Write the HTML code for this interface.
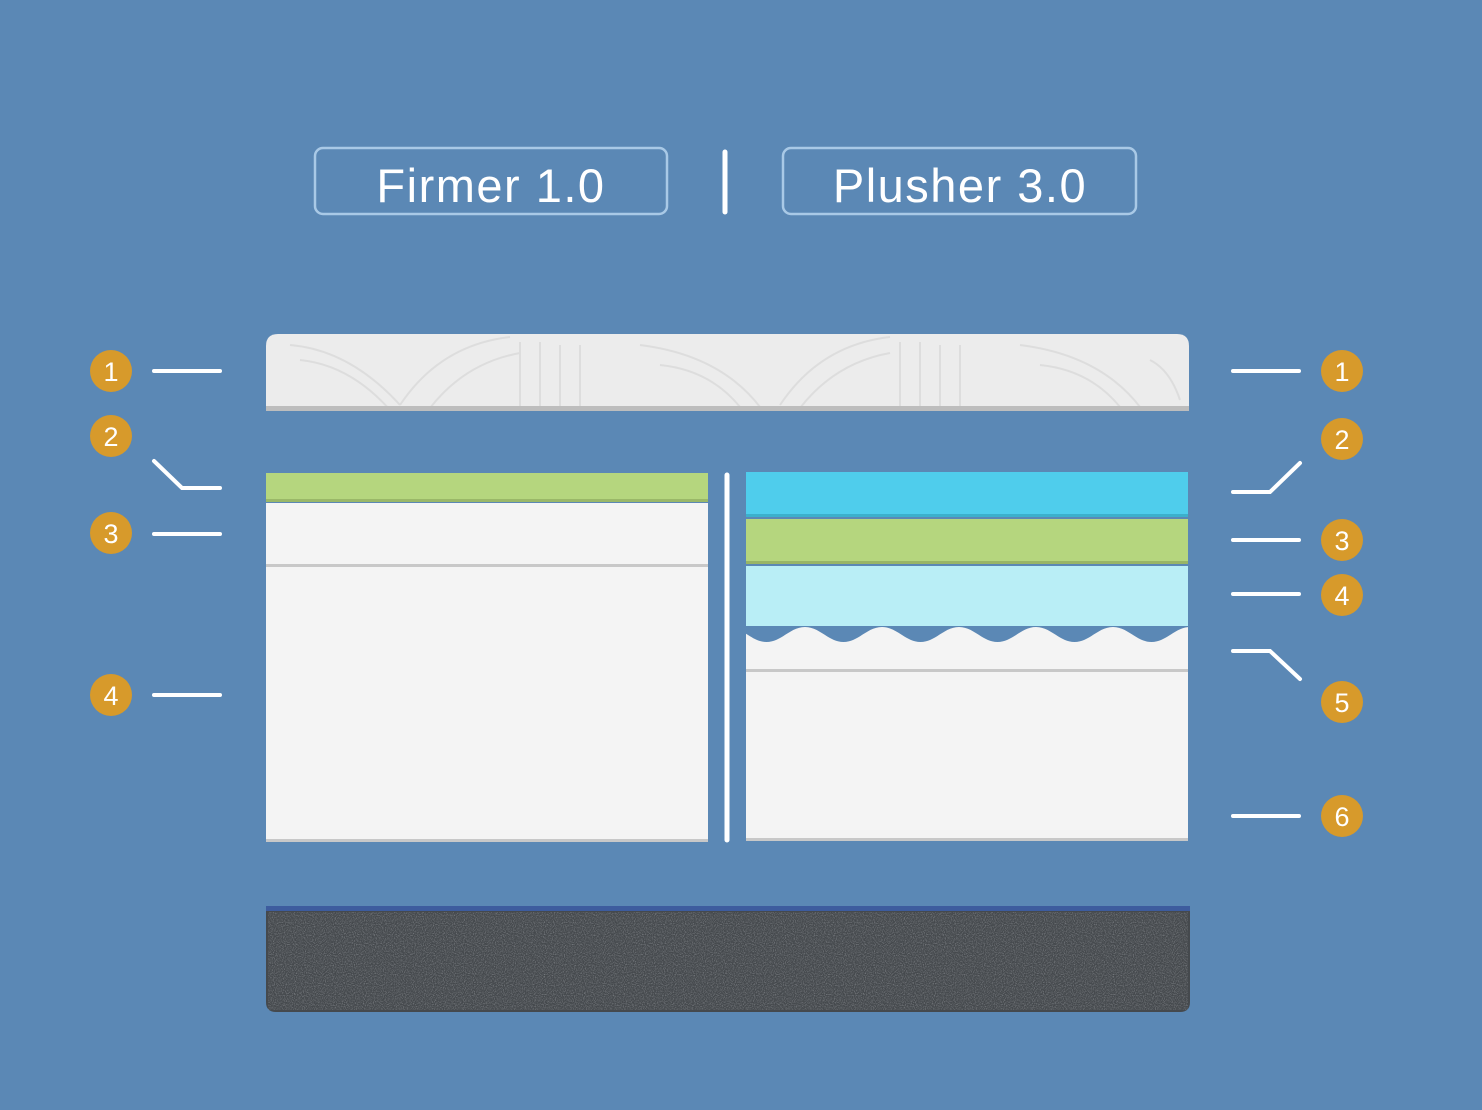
<!DOCTYPE html>
<html><head><meta charset="utf-8"><style>
html,body{margin:0;padding:0;background:#5b88b5;}
svg{display:block}
text{font-family:"Liberation Sans",sans-serif;fill:#fff}
</style></head><body>
<svg width="1482" height="1110" viewBox="0 0 1482 1110" xmlns="http://www.w3.org/2000/svg">
<defs>
<filter id="noise" x="0" y="0" width="100%" height="100%">
<feTurbulence type="fractalNoise" baseFrequency="0.9" numOctaves="2" seed="3"/>
<feColorMatrix type="matrix" values="0 0 0 0 0.55  0 0 0 0 0.57  0 0 0 0 0.6  0 0 0 1.4 -0.6"/>
</filter>
<clipPath id="cw"><rect x="746" y="600" width="442" height="80"/></clipPath>
</defs>
<rect width="1482" height="1110" fill="#5b88b5"/>
<!-- titles -->
<rect x="315" y="148" width="352" height="66" rx="8" fill="none" stroke="#a9c9e6" stroke-width="2.5"/>
<text x="491" y="202" font-size="47" text-anchor="middle" letter-spacing="1.5">Firmer 1.0</text>
<rect x="783" y="148" width="353" height="66" rx="8" fill="none" stroke="#a9c9e6" stroke-width="2.5"/>
<text x="960" y="202" font-size="47" text-anchor="middle" letter-spacing="1.5">Plusher 3.0</text>
<line x1="725" y1="152" x2="725" y2="212" stroke="#fff" stroke-width="5" stroke-linecap="round"/>
<!-- top layer -->
<path d="M266,346 Q266,334 278,334 L1177,334 Q1189,334 1189,346 L1189,411 L266,411 Z" fill="#ececec"/>
<g stroke="#dcdcdc" stroke-width="2" fill="none" opacity="0.9">
<path d="M290,345 q60,5 110,60 M300,360 q50,5 90,50 M400,405 q40,-60 110,-68 M430,408 q35,-45 90,-55 M520,342 v66 M540,342 v66 M560,345 v62 M580,345 v62 M640,345 q80,10 120,62 M660,365 q50,5 80,42 M780,405 q40,-60 110,-68 M800,408 q35,-45 90,-55 M900,342 v66 M920,342 v66 M940,345 v62 M960,345 v62 M1020,345 q80,10 120,62 M1040,365 q50,5 80,42 M1150,360 q20,10 30,40"/>
</g>
<rect x="266" y="406" width="923" height="5" fill="#bdbdbd"/>
<!-- left stack -->
<rect x="266" y="473" width="442" height="29" fill="#b5d67e"/>
<rect x="266" y="499" width="442" height="3" fill="#9ab868"/>
<rect x="266" y="503" width="442" height="62" fill="#f4f4f4"/>
<rect x="266" y="564" width="442" height="3" fill="#c8c8c8"/>
<rect x="266" y="567" width="442" height="275" fill="#f4f4f4"/>
<rect x="266" y="839" width="442" height="3" fill="#c8c8c8"/>
<line x1="727" y1="475" x2="727" y2="840" stroke="#fff" stroke-width="5" stroke-linecap="round"/>
<!-- right stack -->
<rect x="746" y="472" width="442" height="45" fill="#4fcdec"/>
<rect x="746" y="514" width="442" height="3" fill="#3cb0cc"/>
<rect x="746" y="519" width="442" height="45" fill="#b5d67e"/>
<rect x="746" y="561" width="442" height="3" fill="#98b566"/>
<rect x="746" y="566" width="442" height="60" fill="#b9eef6"/>
<rect x="746" y="627" width="442" height="44" fill="#f4f4f4"/>
<g clip-path="url(#cw)">
<path d="M728,627 C743,627 751.5,642 766.5,642 C781.5,642 790,627 805,627 C820,627 828.5,642 843.5,642 C858.5,642 867,627 882,627 C897,627 905.5,642 920.5,642 C935.5,642 944,627 959,627 C974,627 982.5,642 997.5,642 C1012.5,642 1021,627 1036,627 C1051,627 1059.5,642 1074.5,642 C1089.5,642 1098,627 1113,627 C1128,627 1136.5,642 1151.5,642 C1166.5,642 1175,627 1190,627 L1190,626 L728,626 Z" fill="#5b88b5"/>
</g>
<rect x="746" y="669" width="442" height="3" fill="#c8c8c8"/>
<rect x="746" y="672" width="442" height="169" fill="#f4f4f4"/>
<rect x="746" y="838" width="442" height="3" fill="#c8c8c8"/>
<!-- base -->
<path d="M266,906 L1190,906 L1190,1002 Q1190,1012 1180,1012 L276,1012 Q266,1012 266,1002 Z" fill="#45494d"/>
<rect x="268" y="912" width="920" height="98" filter="url(#noise)" opacity="0.7"/>
<rect x="266" y="906" width="924" height="5" fill="#3d5c9e"/>
<!-- connectors -->
<g stroke="#fff" stroke-width="4" stroke-linecap="round" fill="none">
<line x1="154" y1="371" x2="220" y2="371"/>
<polyline points="154,461 182,488 220,488"/>
<line x1="154" y1="534" x2="220" y2="534"/>
<line x1="154" y1="695" x2="220" y2="695"/>
<line x1="1233" y1="371" x2="1299" y2="371"/>
<polyline points="1233,492 1270,492 1300,463"/>
<line x1="1233" y1="540" x2="1299" y2="540"/>
<line x1="1233" y1="594" x2="1299" y2="594"/>
<polyline points="1233,651 1270,651 1300,679"/>
<line x1="1233" y1="816" x2="1299" y2="816"/>
</g>
<!-- badges -->
<g fill="#d79a2b">
<circle cx="111" cy="371" r="21"/><circle cx="111" cy="436" r="21"/><circle cx="111" cy="533" r="21"/><circle cx="111" cy="695" r="21"/>
<circle cx="1342" cy="371" r="21"/><circle cx="1342" cy="439" r="21"/><circle cx="1342" cy="540" r="21"/><circle cx="1342" cy="595" r="21"/><circle cx="1342" cy="702" r="21"/><circle cx="1342" cy="816" r="21"/>
</g>
<g font-size="27" text-anchor="middle">
<text x="111" y="381">1</text><text x="111" y="446">2</text><text x="111" y="543">3</text><text x="111" y="705">4</text>
<text x="1342" y="381">1</text><text x="1342" y="449">2</text><text x="1342" y="550">3</text><text x="1342" y="605">4</text><text x="1342" y="712">5</text><text x="1342" y="826">6</text>
</g>
</svg>
</body></html>
